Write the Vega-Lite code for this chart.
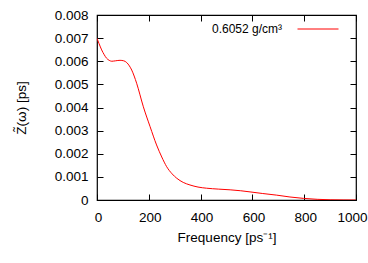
{
  "$schema": "https://vega.github.io/schema/vega-lite/v6.json",
  "width": 259,
  "height": 185,
  "autosize": {"type": "none"},
  "padding": {"left": 97, "top": 15, "right": 12, "bottom": 63},
  "background": "white",
  "config": {
    "font": "Liberation Sans",
    "view": {"stroke": "black", "strokeWidth": 1.2},
    "axis": {"grid": false, "labelFont": "Liberation Sans", "titleFont": "Liberation Sans", "labelFontSize": 13.5, "titleFontSize": 13.5, "labelColor": "black", "titleColor": "black", "titleFontWeight": "normal", "domain": false, "tickColor": "black", "tickSize": -6, "labelOverlap": false, "labelFlush": false}
  },
  "data": {"values": [
    {"f": 0, "z": 0.00699, "s": "0.6052 g/cm³"},
    {"f": 8, "z": 0.00676, "s": "0.6052 g/cm³"},
    {"f": 18, "z": 0.00649, "s": "0.6052 g/cm³"},
    {"f": 28, "z": 0.00628, "s": "0.6052 g/cm³"},
    {"f": 37, "z": 0.00613, "s": "0.6052 g/cm³"},
    {"f": 47, "z": 0.00604, "s": "0.6052 g/cm³"},
    {"f": 57, "z": 0.00600, "s": "0.6052 g/cm³"},
    {"f": 72, "z": 0.00602, "s": "0.6052 g/cm³"},
    {"f": 89, "z": 0.00604, "s": "0.6052 g/cm³"},
    {"f": 103, "z": 0.00602, "s": "0.6052 g/cm³"},
    {"f": 115, "z": 0.00594, "s": "0.6052 g/cm³"},
    {"f": 125, "z": 0.00580, "s": "0.6052 g/cm³"},
    {"f": 134, "z": 0.00562, "s": "0.6052 g/cm³"},
    {"f": 153, "z": 0.00505, "s": "0.6052 g/cm³"},
    {"f": 179, "z": 0.00403, "s": "0.6052 g/cm³"},
    {"f": 205, "z": 0.00317, "s": "0.6052 g/cm³"},
    {"f": 230, "z": 0.00238, "s": "0.6052 g/cm³"},
    {"f": 250, "z": 0.00186, "s": "0.6052 g/cm³"},
    {"f": 269, "z": 0.00144, "s": "0.6052 g/cm³"},
    {"f": 290, "z": 0.00113, "s": "0.6052 g/cm³"},
    {"f": 308, "z": 0.00094, "s": "0.6052 g/cm³"},
    {"f": 333, "z": 0.00076, "s": "0.6052 g/cm³"},
    {"f": 359, "z": 0.00065, "s": "0.6052 g/cm³"},
    {"f": 390, "z": 0.00056, "s": "0.6052 g/cm³"},
    {"f": 423, "z": 0.00051, "s": "0.6052 g/cm³"},
    {"f": 470, "z": 0.00047, "s": "0.6052 g/cm³"},
    {"f": 514, "z": 0.00044, "s": "0.6052 g/cm³"},
    {"f": 555, "z": 0.00040, "s": "0.6052 g/cm³"},
    {"f": 591, "z": 0.00035, "s": "0.6052 g/cm³"},
    {"f": 640, "z": 0.00028, "s": "0.6052 g/cm³"},
    {"f": 694, "z": 0.00021, "s": "0.6052 g/cm³"},
    {"f": 745, "z": 0.00013, "s": "0.6052 g/cm³"},
    {"f": 797, "z": 0.00007, "s": "0.6052 g/cm³"},
    {"f": 850, "z": 0.00003, "s": "0.6052 g/cm³"},
    {"f": 900, "z": 0.00001, "s": "0.6052 g/cm³"},
    {"f": 950, "z": 0.000003, "s": "0.6052 g/cm³"},
    {"f": 1000, "z": 0.0, "s": "0.6052 g/cm³"}
  ]},
  "layer": [
    {
      "mark": {"type": "line", "strokeWidth": 1, "interpolate": "monotone", "clip": true},
      "encoding": {
        "x": {"field": "f", "type": "quantitative", "scale": {"domain": [0, 1000], "nice": false, "zero": false}, "axis": {"values": [0, 200, 400, 600, 800, 1000], "format": "d", "title": "Frequency [ps⁻¹]", "titlePadding": 7, "labelPadding": 16, "labelOffset": {"condition": {"test": "datum.value == 1000", "value": -4}, "value": 1}}},
        "y": {"field": "z", "type": "quantitative", "scale": {"domain": [0, 0.008], "nice": false}, "axis": {"values": [0, 0.001, 0.002, 0.003, 0.004, 0.005, 0.006, 0.007, 0.008], "labelExpr": "datum.value == 0 ? '0' : format(datum.value, '.3f')", "title": "Z̃(ω) [ps]", "titlePadding": 26, "labelPadding": 15}},
        "color": {"field": "s", "type": "nominal", "scale": {"range": ["#ff0000"]}, "legend": {"title": null, "orient": "none", "legendX": 200, "legendY": -7, "symbolType": "stroke", "symbolSize": 1681, "symbolStrokeWidth": 1, "labelFont": "Liberation Sans", "labelFontSize": 12, "labelColor": "black", "labelAlign": "right", "labelOffset": -57}}
      }
    },
    {
      "mark": {"type": "line", "opacity": 0},
      "encoding": {
        "x": {"field": "f", "type": "quantitative", "axis": {"orient": "top", "values": [0, 200, 400, 600, 800, 1000], "labels": false, "title": null}},
        "y": {"field": "z", "type": "quantitative", "axis": {"orient": "right", "values": [0, 0.001, 0.002, 0.003, 0.004, 0.005, 0.006, 0.007, 0.008], "labels": false, "title": null}}
      }
    }
  ],
  "resolve": {"axis": {"x": "independent", "y": "independent"}}
}
